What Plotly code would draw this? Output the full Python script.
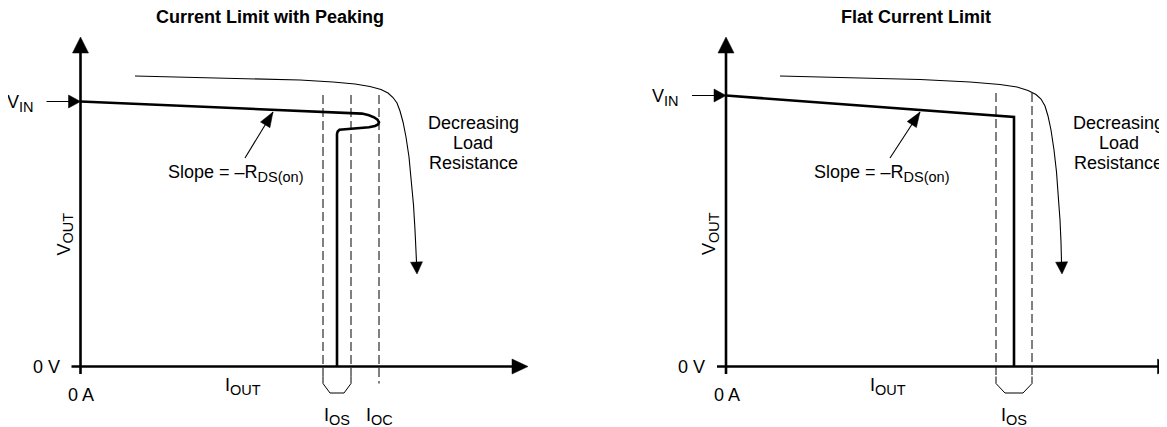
import math
import plotly.graph_objects as go

# ---------------- data (panel units: current I, voltage V; origin = 0 A / 0 V) ----------------
titles = ["Current Limit with Peaking", "Flat Current Limit"]

# Left panel: current limit with peaking
vin_left = 265
main_I_left = [0, 272.5, 281.5, 288.5, 293.5, 297, 298.5, 297.5, 294.5, 288.5, 279.5, 269.5,
               262.5, 259, 257.2, 256.5, 256.5]
main_V_left = [265, 253.8, 252.9, 251.3, 249.2, 246.8, 244.2, 242, 240.5, 239.2, 238.5, 238.2,
               237.7, 236.7, 235, 232.5, 0]
load_I_left = [54.5, 119.5, 179.5, 219.5, 252.5, 274.5, 289.5, 300.5, 307.5, 312.5, 316.5, 319.5,
               322.5, 325.5, 328.5, 331, 333, 334.5, 335.5, 336, 336.5]
load_V_left = [290.5, 289.2, 288, 286.5, 284.5, 282.5, 280, 277, 273.5, 269, 263.5, 255.5,
               244.5, 229.5, 209.5, 186.5, 161.5, 136.5, 116.5, 104.5, 92.5]
ios_left = [242.5, 270.5]      # I_OS band edges
ioc_left = 298.5               # I_OC
dash_top_left = 271.5

# Right panel: flat current limit
vin_right = 271
main_I_right = [0, 288, 288]
main_V_right = [271, 249.5, 0]
load_I_right = [54, 124, 194, 244, 274, 291, 302, 310, 315, 319, 322, 325, 328, 330.5, 332.5,
                334, 335, 335.5, 336]
load_V_right = [290.5, 289, 287, 284.5, 282, 279.5, 276, 272, 267.5, 260.5, 250.5, 236.5, 216.5,
                194.5, 171.5, 146.5, 124.5, 104.5, 92.5]
ios_right = [270, 306]
dash_top_right = 273.5

# axis extents (shared by both panels)
x_axis_I = [-9, 447.5]
y_axis_V = [-7.5, 329.5]
vin_arrow_start = -34
slope_tail = [(164.5, 208.5), (164, 208.5)]
slope_tip = [(192.5, 254.5), (194, 254.5)]
bracket_bottom = -26.5
bracket_knee = -17
band_bottom = -10

FONT = "Liberation Sans, Arial, Helvetica, sans-serif"
BLACK = "#000000"

fig = go.Figure()


def sub(s):
    return '<sub><span style="font-size:14.5px">%s</span></sub>' % s


def line(xs, ys, xa, width=1.0, dash=None):
    fig.add_trace(go.Scatter(x=xs, y=ys, xaxis=xa, yaxis="y", mode="lines",
                             line=dict(color=BLACK, width=width, dash=dash),
                             hoverinfo="skip", showlegend=False))


def head(tip, frm, xa, L, W):
    dx, dy = tip[0] - frm[0], tip[1] - frm[1]
    n = math.hypot(dx, dy)
    ux, uy = dx / n, dy / n
    bx, by = tip[0] - L * ux, tip[1] - L * uy
    px, py = -uy, ux
    xs = [tip[0], bx + W * px, bx - W * px, tip[0]]
    ys = [tip[1], by + W * py, by - W * py, tip[1]]
    fig.add_trace(go.Scatter(x=xs, y=ys, xaxis=xa, yaxis="y", mode="lines", fill="toself",
                             fillcolor=BLACK, line=dict(color=BLACK, width=0.5),
                             hoverinfo="skip", showlegend=False))


def text(xa, x, y, s, size=18, xanchor="center", yanchor="middle", angle=0, bold=False):
    fig.add_annotation(x=x, y=y, xref=xa, yref="y", text=("<b>%s</b>" % s) if bold else s,
                       showarrow=False, xanchor=xanchor, yanchor=yanchor, textangle=angle,
                       font=dict(family=FONT, size=size, color=BLACK))


panels = [
    dict(xa="x", vin=vin_left, mI=main_I_left, mV=main_V_left, lI=load_I_left, lV=load_V_left,
         ios=ios_left, ioc=ioc_left, top=dash_top_left, tail=slope_tail[0], tip=slope_tip[0],
         title=titles[0], tx=189.5),
    dict(xa="x2", vin=vin_right, mI=main_I_right, mV=main_V_right, lI=load_I_right,
         lV=load_V_right, ios=ios_right, ioc=None, top=dash_top_right, tail=slope_tail[1],
         tip=slope_tip[1], title=titles[1], tx=190),
]

for p in panels:
    xa = p["xa"]
    # axes with arrowheads
    line([0, 0], [y_axis_V[0], y_axis_V[1] - 10], xa, width=2.6)
    head((0, y_axis_V[1]), (0, 0), xa, 16, 8)
    line([x_axis_I[0], x_axis_I[1] - 10], [0, 0], xa, width=2.6)
    head((x_axis_I[1], 0), (0, 0), xa, 16, 7.5)
    # V_IN marker arrow
    line([vin_arrow_start, -8], [p["vin"], p["vin"]], xa, width=1.0)
    head((0, p["vin"]), (vin_arrow_start, p["vin"]), xa, 12, 6.5)
    # dashed current thresholds + I_OS bracket
    a, b = p["ios"]
    for xv in (a, b):
        line([xv, xv], [p["top"], band_bottom], xa, width=1.0, dash="9px,4px")
    mid_l = a + (b - a) * 0.25
    mid_r = b - (b - a) * 0.25
    line([a, a, mid_l, mid_r, b, b],
         [band_bottom, bracket_knee, bracket_bottom, bracket_bottom, bracket_knee, band_bottom],
         xa, width=1.0)
    if p["ioc"] is not None:
        line([p["ioc"], p["ioc"]], [p["top"], bracket_knee], xa, width=1.0, dash="9px,4px")
    # load line (decreasing load resistance)
    line(p["lI"][:-1], p["lV"][:-1], xa, width=1.1)
    head((p["lI"][-1], p["lV"][-1]), (p["lI"][-3], p["lV"][-3]), xa, 12, 6)
    # main characteristic
    line(p["mI"], p["mV"], xa, width=2.6)
    # slope pointer
    line([p["tail"][0], p["tip"][0]], [p["tail"][1], p["tip"][1]], xa, width=1.1)
    head(p["tip"], p["tail"], xa, 15, 5.5)

    # labels
    text(xa, p["tx"], 349.5, p["title"], size=18, bold=True)
    text(xa, -45, p["vin"] - 2, "V" + sub("IN"), xanchor="right")
    text(xa, 85.5, 193, "Slope = \u2013R" + sub("DS(on)"), xanchor="left")
    for yy, s in zip([243.5, 223.5, 203.5], ["Decreasing", "Load", "Resistance"]):
        text(xa, 392.5, yy, s)
    text(xa, -16, 132.5, "V" + sub("OUT"), angle=-90)
    text(xa, -34.5, 0, "0 V")
    text(xa, 0.5, -28.5, "0 A")
    text(xa, 162, -20, "I" + sub("OUT"))
    text(xa, (a + b) / 2, -50, "I" + sub("OS"))
    if p["ioc"] is not None:
        text(xa, p["ioc"], -50, "I" + sub("OC"))

# The page body has an 8px default margin, so the figure is sized to fit the window with it.
hidden = dict(visible=False, showgrid=False, zeroline=False, fixedrange=True)
fig.update_layout(
    width=1159, height=419, autosize=False,
    margin=dict(l=0, r=0, t=0, b=0, pad=0),
    paper_bgcolor="white", plot_bgcolor="white",
    showlegend=False,
    xaxis=dict(domain=[0, 0.5], range=[-72.5, 507], **hidden),
    xaxis2=dict(domain=[0.5, 1], range=[-138.5, 441], anchor="y", **hidden),
    yaxis=dict(domain=[0, 1], range=[-60.5, 358.5], **hidden),
)

fig.write_html("out.html")
